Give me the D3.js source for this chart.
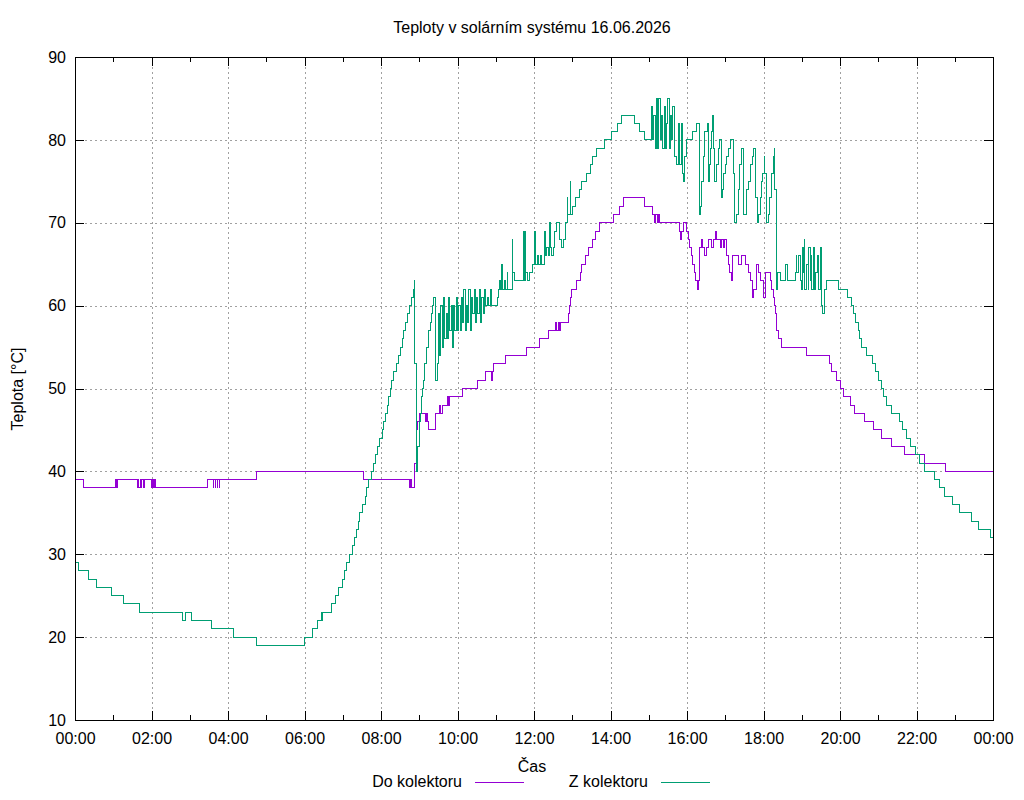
<!DOCTYPE html>
<html>
<head>
<meta charset="utf-8">
<script src="https://cdn.jsdelivr.net/npm/d3@7"></script>
<style>
    body { margin: 0; background: #fff; }
    text { font-family: "Liberation Sans", Arial, sans-serif; font-size: 16px; fill: #000; }
</style>
</head>
<body>
<svg width="1024" height="800"></svg>
<script>
// chart data: [time, temperature] where the value changes (sampled every minute)
let title = "Teploty v solárním systému 16.06.2026";
let yTicks = [10, 20, 30, 40, 50, 60, 70, 80, 90];
let seriesNames = ["Do kolektoru", "Z kolektoru"];
let seriesColors = ["#9400d3", "#009e73"];

let doKolektoru = [
    ["00:00", 38], ["00:01", 39], ["00:13", 38], ["01:03", 39], ["01:04", 38], ["01:05", 39], ["01:06", 38],
    ["01:07", 39], ["01:38", 38], ["01:39", 39], ["01:40", 38], ["01:42", 39], ["01:43", 38], ["01:44", 39],
    ["01:48", 38], ["01:49", 39], ["02:00", 38], ["02:01", 39], ["02:03", 38], ["02:04", 39], ["02:06", 38],
    ["03:28", 39], ["03:37", 38], ["03:38", 39], ["03:40", 38], ["03:41", 39], ["03:43", 38], ["03:44", 39],
    ["03:46", 38], ["03:47", 39], ["04:45", 40], ["07:32", 39], ["08:45", 38], ["08:46", 39], ["08:48", 38],
    ["08:52", 41], ["08:55", 43], ["08:56", 45], ["08:58", 46], ["09:00", 47],
    ["09:10", 46], ["09:12", 47], ["09:13", 46], ["09:14", 45], ["09:25", 47], ["09:31", 48], ["09:33", 47],
    ["09:36", 48], ["09:44", 49], ["09:46", 48], ["09:48", 49], ["10:08", 50],
    ["10:32", 51], ["10:44", 52], ["10:53", 51], ["10:55", 52], ["10:57", 53],
    ["11:15", 54], ["11:48", 55], ["12:09", 56], ["12:22", 57], ["12:33", 58], ["12:35", 57], ["12:38", 58],
    ["12:40", 57], ["12:42", 58], ["12:54", 59], ["12:56", 60], ["12:57", 61],
    ["12:59", 62], ["13:07", 63], ["13:13", 64], ["13:15", 65], ["13:20", 66], ["13:26", 67], ["13:31", 68],
    ["13:36", 69], ["13:43", 70], ["14:05", 71], ["14:14", 72], ["14:21", 73], ["14:54", 72], ["15:06", 71],
    ["15:09", 70], ["15:11", 71], ["15:14", 70], ["15:16", 71], ["15:17", 70],
    ["15:48", 69], ["15:50", 68], ["15:52", 69], ["15:54", 70], ["15:59", 69], ["16:02", 68],
    ["16:04", 67], ["16:07", 66], ["16:09", 65], ["16:12", 64], ["16:14", 63], ["16:16", 62], ["16:18", 63],
    ["16:19", 64], ["16:20", 67], ["16:23", 68], ["16:25", 67], ["16:28", 66], ["16:31", 67], ["16:33", 68],
    ["16:38", 67], ["16:41", 68], ["16:44", 69], ["16:46", 68], ["16:52", 67], ["16:54", 68], ["16:57", 67],
    ["16:59", 68], ["17:02", 66], ["17:05", 65], ["17:07", 64], ["17:10", 63], ["17:12", 66], ["17:21", 65],
    ["17:26", 66], ["17:31", 65], ["17:36", 64], ["17:39", 63], ["17:42", 61], ["17:44", 62], ["17:49", 65],
    ["17:52", 64], ["17:55", 63], ["18:00", 61], ["18:03", 64], ["18:11", 63], ["18:13", 62], ["18:16", 61],
    ["18:18", 60], ["18:19", 59], ["18:20", 58], ["18:21", 57], ["18:23", 56], ["18:29", 55], ["19:08", 54],
    ["19:43", 53], ["19:47", 52], ["19:55", 51], ["20:00", 50], ["20:06", 49], ["20:16", 48], ["20:22", 47],
    ["20:39", 46], ["20:53", 45], ["21:05", 44], ["21:21", 43], ["21:41", 42], ["22:13", 41], ["22:45", 40],
    ["24:00", 40]
];

let zKolektoru = [
    ["00:00", 29], ["00:05", 28], ["00:21", 27], ["00:34", 26], ["00:58", 25], ["01:16", 24], ["01:41", 23],
    ["02:49", 22], ["02:53", 23], ["03:02", 22], ["03:34", 21], ["04:08", 20], ["04:44", 19], ["06:00", 20],
    ["06:12", 21], ["06:21", 22], ["06:27", 23], ["06:28", 22], ["06:29", 23], ["06:43", 24], ["06:49", 25],
    ["06:53", 26], ["07:00", 27], ["07:02", 28], ["07:06", 29], ["07:10", 30], ["07:15", 31], ["07:18", 32],
    ["07:21", 33], ["07:24", 34], ["07:27", 35], ["07:31", 36], ["07:35", 37], ["07:38", 38], ["07:41", 39],
    ["07:45", 40], ["07:48", 41], ["07:51", 42], ["07:54", 43], ["07:58", 44], ["08:02", 45], ["08:04", 46],
    ["08:07", 47], ["08:10", 48], ["08:12", 49], ["08:15", 50], ["08:17", 51], ["08:20", 52], ["08:24", 53],
    ["08:27", 54], ["08:30", 55], ["08:33", 56], ["08:36", 57], ["08:38", 58], ["08:41", 59], ["08:44", 60],
    ["08:48", 61], ["08:51", 62], ["08:52", 63], ["08:53", 53], ["08:55", 40], ["08:57", 42], ["08:58", 43],
    ["09:00", 45], ["09:01", 46], ["09:02", 47], ["09:03", 48], ["09:04", 49], ["09:05", 50], ["09:07", 51],
    ["09:08", 52], ["09:09", 53], ["09:11", 54], ["09:12", 55], ["09:14", 56], ["09:15", 57], ["09:17", 58],
    ["09:19", 59], ["09:21", 60], ["09:23", 61], ["09:25", 51], ["09:28", 53], ["09:30", 59], ["09:32", 54],
    ["09:34", 60], ["09:36", 55], ["09:38", 61], ["09:40", 56], ["09:42", 59], ["09:44", 56], ["09:46", 61],
    ["09:48", 57], ["09:50", 60], ["09:52", 55], ["09:54", 60], ["09:56", 57], ["09:58", 61], ["10:00", 57],
    ["10:02", 60], ["10:04", 57], ["10:06", 61], ["10:08", 58], ["10:10", 62], ["10:12", 57], ["10:14", 60],
    ["10:16", 58], ["10:18", 62], ["10:20", 57], ["10:22", 61], ["10:24", 59], ["10:26", 62], ["10:28", 58],
    ["10:30", 61], ["10:32", 59], ["10:34", 62], ["10:36", 58], ["10:38", 61], ["10:40", 59], ["10:42", 62],
    ["10:44", 60], ["10:47", 61], ["10:48", 60], ["10:52", 62], ["10:53", 60], ["11:03", 61], ["11:04", 62],
    ["11:06", 63], ["11:07", 62], ["11:09", 65], ["11:11", 62], ["11:14", 63], ["11:15", 62], ["11:18", 64],
    ["11:19", 62], ["11:26", 68], ["11:27", 64], ["11:30", 63], ["11:43", 69], ["11:45", 63], ["11:46", 69],
    ["11:47", 64], ["11:50", 63], ["11:53", 64], ["11:58", 65], ["12:01", 69], ["12:03", 65], ["12:05", 66],
    ["12:07", 65], ["12:10", 66], ["12:12", 65], ["12:17", 69], ["12:18", 66], ["12:20", 67], ["12:23", 66],
    ["12:25", 70], ["12:26", 67], ["12:28", 66], ["12:30", 67], ["12:32", 69], ["12:35", 70], ["12:37", 70],
    ["12:40", 68], ["12:43", 67], ["12:46", 68], ["12:50", 70], ["12:52", 73], ["12:53", 71], ["12:57", 75],
    ["12:58", 71], ["13:00", 72], ["13:05", 73], ["13:11", 74], ["13:15", 75], ["13:22", 76], ["13:28", 77],
    ["13:31", 78], ["13:38", 79], ["13:51", 80], ["14:02", 81], ["14:11", 82], ["14:18", 83], ["14:38", 82],
    ["14:46", 81], ["14:53", 80], ["15:04", 84], ["15:06", 80], ["15:08", 83], ["15:10", 79], ["15:12", 85],
    ["15:14", 79], ["15:16", 85], ["15:18", 80], ["15:20", 83], ["15:22", 79], ["15:24", 84], ["15:26", 79],
    ["15:28", 82], ["15:30", 85], ["15:32", 79], ["15:34", 83], ["15:36", 80], ["15:38", 84], ["15:40", 78],
    ["15:43", 77], ["15:46", 82], ["15:48", 77], ["15:51", 82], ["15:53", 76], ["15:55", 75], ["15:56", 78],
    ["15:59", 80], ["16:09", 81], ["16:15", 82], ["16:20", 71],
    ["16:21", 72], ["16:23", 75], ["16:26", 78], ["16:28", 81], ["16:32", 82], ["16:33", 75], ["16:35", 77],
    ["16:37", 79], ["16:39", 81], ["16:40", 83], ["16:42", 79], ["16:43", 75], ["16:47", 77], ["16:49", 79],
    ["16:51", 80], ["16:54", 73], ["16:56", 74], ["16:58", 76], ["17:00", 77], ["17:02", 78], ["17:05", 79],
    ["17:08", 80], ["17:13", 76], ["17:15", 70], ["17:18", 71], ["17:21", 74], ["17:23", 77], ["17:26", 79],
    ["17:28", 77], ["17:29", 71], ["17:34", 74], ["17:36", 75], ["17:39", 77], ["17:42", 78], ["17:44", 79],
    ["17:47", 77], ["17:48", 73], ["17:51", 70], ["17:52", 71], ["17:55", 73], ["17:57", 75], ["17:59", 76],
    ["18:01", 78], ["18:02", 76], ["18:04", 70], ["18:08", 71], ["18:10", 73], ["18:13", 76], ["18:16", 78],
    ["18:17", 79], ["18:18", 74], ["18:20", 62], ["18:22", 64], ["18:26", 63], ["18:34", 65], ["18:37", 64],
    ["18:38", 63], ["18:50", 64], ["18:51", 66], ["18:52", 64], ["18:55", 66], ["18:58", 63], ["18:59", 62],
    ["19:01", 67], ["19:03", 64], ["19:04", 68], ["19:05", 62], ["19:08", 65], ["19:10", 62], ["19:11", 67],
    ["19:13", 63], ["19:15", 66], ["19:16", 62], ["19:19", 67], ["19:20", 62], ["19:22", 64], ["19:24", 66],
    ["19:26", 62], ["19:29", 67], ["19:31", 60], ["19:33", 59], ["19:35", 61], ["19:36", 62], ["19:39", 63],
    ["19:58", 62], ["20:11", 61], ["20:18", 60], ["20:21", 59], ["20:24", 58], ["20:29", 57], ["20:31", 56],
    ["20:34", 55], ["20:42", 54], ["20:51", 53], ["20:55", 52], ["21:00", 51], ["21:05", 50], ["21:09", 49],
    ["21:13", 48], ["21:21", 47], ["21:33", 46], ["21:38", 45], ["21:44", 44], ["21:51", 43], ["21:59", 42],
    ["22:04", 41], ["22:12", 40], ["22:29", 39], ["22:36", 38], ["22:44", 37], ["22:56", 36], ["23:07", 35],
    ["23:27", 34], ["23:38", 33], ["23:56", 32], ["24:00", 32]
];

function parseTime(s) {
    let [h, m] = s.split(":").map(Number);
    return new Date(2026, 5, 16, h, m);
}

let svg = d3.select("svg");
let plot = { left: 75, right: 993, top: 57, bottom: 720 };

svg.append("rect").attr("width", 1024).attr("height", 800).style("fill", "#fff");

let xScale = d3.scaleTime()
    .domain([new Date(2026, 5, 16, 0, 0), new Date(2026, 5, 17, 0, 0)])
    .range([plot.left, plot.right]);

let yScale = d3.scaleLinear()
    .domain([10, 90])
    .range([plot.bottom, plot.top]);

let majorX = xScale.ticks(d3.timeHour.every(2));
let minorX = xScale.ticks(d3.timeHour.every(1));

// grid
let grid = svg.append("g").attr("class", "grid");
grid.selectAll(".gx").data(majorX.slice(1, -1))
    .enter().append("line")
    .attr("x1", d => Math.round(xScale(d)) + 0.5)
    .attr("x2", d => Math.round(xScale(d)) + 0.5)
    .attr("y1", plot.top)
    .attr("y2", plot.bottom);
grid.selectAll(".gy").data(yTicks.slice(1, -1))
    .enter().append("line")
    .attr("x1", plot.left)
    .attr("x2", plot.right)
    .attr("y1", d => Math.round(yScale(d)) + 0.5)
    .attr("y2", d => Math.round(yScale(d)) + 0.5);
grid.selectAll("line")
    .style("stroke", "#a0a0a0")
    .style("stroke-width", 1)
    .style("stroke-dasharray", "2,3");

// axes
let xAxis = d3.axisBottom(xScale).tickValues(majorX)
    .tickFormat(d3.timeFormat("%H:%M")).tickSizeInner(-9).tickSizeOuter(0).tickPadding(13);
let xAxisTop = d3.axisTop(xScale).tickValues(majorX)
    .tickFormat("").tickSizeInner(-9).tickSizeOuter(0);
let xMinor = d3.axisBottom(xScale).tickValues(minorX)
    .tickFormat("").tickSizeInner(-5).tickSizeOuter(0);
let xMinorTop = d3.axisTop(xScale).tickValues(minorX)
    .tickFormat("").tickSizeInner(-5).tickSizeOuter(0);
let yAxis = d3.axisLeft(yScale).tickValues(yTicks)
    .tickSizeInner(-9).tickSizeOuter(0).tickPadding(9);
let yAxisRight = d3.axisRight(yScale).tickValues(yTicks)
    .tickFormat("").tickSizeInner(-9).tickSizeOuter(0);

svg.append("g").attr("transform", "translate(0," + plot.bottom + ")").call(xMinor);
svg.append("g").attr("transform", "translate(0," + plot.top + ")").call(xMinorTop);
svg.append("g").attr("class", "x-axis").attr("transform", "translate(0," + plot.bottom + ")").call(xAxis);
svg.append("g").attr("transform", "translate(0," + plot.top + ")").call(xAxisTop);
svg.append("g").attr("class", "y-axis").attr("transform", "translate(" + plot.left + ",0)").call(yAxis);
svg.append("g").attr("transform", "translate(" + plot.right + ",0)").call(yAxisRight);

svg.selectAll(".domain").remove();
svg.selectAll(".tick line").style("stroke", "#000").style("shape-rendering", "crispEdges");
svg.selectAll(".tick text").style("font-size", "16px").style("font-family", null).attr("fill", "#000");

// series lines
let line = d3.line()
    .x(d => xScale(parseTime(d[0])))
    .y(d => yScale(d[1]))
    .curve(d3.curveStepAfter);

[doKolektoru, zKolektoru].forEach(function (data, i) {
    svg.append("path")
        .datum(data)
        .attr("d", line)
        .style("fill", "none")
        .style("stroke", seriesColors[i])
        .style("stroke-width", 1)
        .style("shape-rendering", "crispEdges");
});

// border
svg.append("rect")
    .attr("x", plot.left + 0.5)
    .attr("y", plot.top + 0.5)
    .attr("width", plot.right - plot.left)
    .attr("height", plot.bottom - plot.top)
    .style("fill", "none")
    .style("stroke", "#000")
    .style("stroke-width", 1);

// titles
svg.append("text")
    .attr("x", 532).attr("y", 33)
    .style("text-anchor", "middle")
    .text(title);

svg.append("text")
    .attr("transform", "translate(23,389) rotate(-90)")
    .style("text-anchor", "middle")
    .text("Teplota [°C]");

svg.append("text")
    .attr("x", 532).attr("y", 772)
    .style("text-anchor", "middle")
    .text("Čas");

// legend
let legendX = [462, 648];
seriesNames.forEach(function (name, i) {
    svg.append("text")
        .attr("x", legendX[i]).attr("y", 787)
        .style("text-anchor", "end")
        .text(name);
    svg.append("line")
        .attr("x1", legendX[i] + 13).attr("x2", legendX[i] + 62)
        .attr("y1", 782.5).attr("y2", 782.5)
        .style("stroke", seriesColors[i])
        .style("stroke-width", 1);
});
</script>
</body>
</html>
